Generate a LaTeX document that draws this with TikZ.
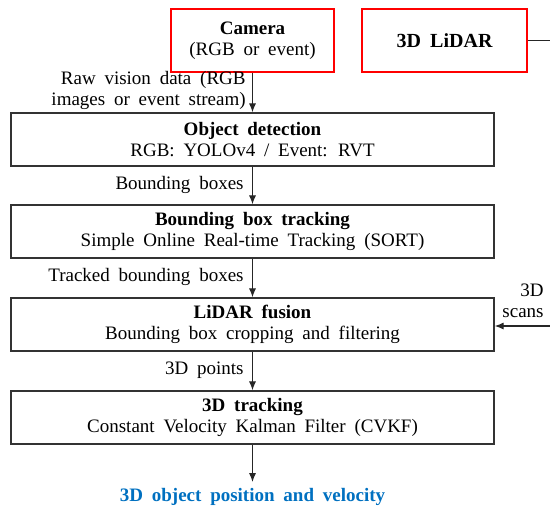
\documentclass[tikz,border=0pt]{standalone}
\usepackage{fontspec}
\setmainfont[WordSpace=1.85]{Liberation Serif}
\usetikzlibrary{arrows.meta}
\definecolor{outblue}{RGB}{0,112,192}
\begin{document}
\begin{tikzpicture}[x=0.5pt,y=-0.5pt,
  every node/.style={font=\fontsize{9.5}{10.5}\selectfont, inner sep=0pt},
  srcbox/.style={draw=red, line width=0.65pt, minimum width=81.5pt, minimum height=31.5pt, align=center},
  procbox/.style={draw=black!80, line width=0.7pt, minimum width=241.5pt, minimum height=26.5pt, align=center},
  lbl/.style={align=right, anchor=east},
  flow/.style={draw=black!85, line width=0.6pt, -{Latex[length=4.5pt,width=3.6pt]}}
]
\useasboundingbox (0,0) rectangle (550,510);
\node[srcbox] (cam) at (252.5,40.5) {\textbf{Camera}\\(RGB or event)};
\node[srcbox, minimum width=82.5pt, font=\fontsize{10}{11}\selectfont\bfseries] (lidar) at (444.5,40.5) {3D LiDAR};
\node[procbox] (det) at (252.5,139.5) {\textbf{Object detection}\\RGB: YOLOv4 / Event: RVT};
\node[procbox] (trk) at (252.5,231.5) {\textbf{Bounding box tracking}\\Simple Online Real-time Tracking (SORT)};
\node[procbox] (fus) at (252.5,324.5) {\textbf{LiDAR fusion}\\Bounding box cropping and filtering};
\node[procbox] (t3d) at (252.5,417.5) {\textbf{3D tracking}\\Constant Velocity Kalman Filter (CVKF)};
\node[font=\fontsize{9.5}{10.5}\selectfont\bfseries, text=outblue] (out) at (252.5,497) {3D object position and velocity};
\coordinate (outtip) at (252.5,482);
\coordinate (lidarout) at (550,40.5);
\coordinate (scanin) at (550,326);

\node[lbl] (l1) at (246,90) {Raw vision data (RGB\\images or event stream)};
\node[lbl] (l2) at (244,185) {Bounding boxes};
\node[lbl] (l3) at (244,277) {Tracked bounding boxes};
\node[lbl] (l4) at (244,370) {3D points};
\node[lbl] (l5) at (544,301) {3D\\scans};

\draw[flow] (cam) -- (det);
\draw[flow] (det) -- (trk);
\draw[flow] (trk) -- (fus);
\draw[flow] (fus) -- (t3d);
\draw[flow] (t3d) -- (outtip);
\draw[draw=black!85, line width=0.6pt] (lidar) -- (lidarout);
\draw[flow] (scanin) -- (scanin -| fus.east);
\end{tikzpicture}
\end{document}
